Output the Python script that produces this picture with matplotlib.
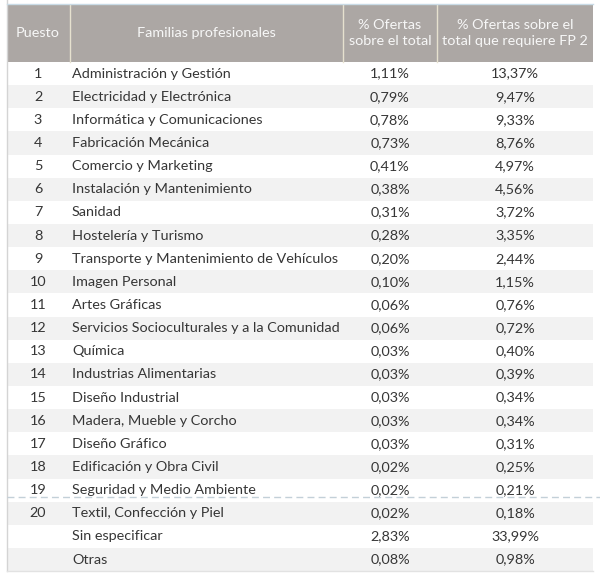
import matplotlib
matplotlib.use("Agg")
import matplotlib.pyplot as plt
from matplotlib.patches import Rectangle

# table data
puesto = [str(i) for i in range(1, 21)] + ["", ""]
familias = [
    "Administración y Gestión",
    "Electricidad y Electrónica",
    "Informática y Comunicaciones",
    "Fabricación Mecánica",
    "Comercio y Marketing",
    "Instalación y Mantenimiento",
    "Sanidad",
    "Hostelería y Turismo",
    "Transporte y Mantenimiento de Vehículos",
    "Imagen Personal",
    "Artes Gráficas",
    "Servicios Socioculturales y a la Comunidad",
    "Química",
    "Industrias Alimentarias",
    "Diseño Industrial",
    "Madera, Mueble y Corcho",
    "Diseño Gráfico",
    "Edificación y Obra Civil",
    "Seguridad y Medio Ambiente",
    "Textil, Confección y Piel",
    "Sin especificar",
    "Otras",
]
pct_total = [1.11, 0.79, 0.78, 0.73, 0.41, 0.38, 0.31, 0.28, 0.20, 0.10, 0.06,
             0.06, 0.03, 0.03, 0.03, 0.03, 0.03, 0.02, 0.02, 0.02, 2.83, 0.08]
pct_fp2 = [13.37, 9.47, 9.33, 8.76, 4.97, 4.56, 3.72, 3.35, 2.44, 1.15, 0.76,
           0.72, 0.40, 0.39, 0.34, 0.34, 0.31, 0.25, 0.21, 0.18, 33.99, 0.98]
headers = ["Puesto", "Familias profesionales",
           "% Ofertas\nsobre el total", "% Ofertas sobre el\ntotal que requiere FP 2"]

def fmt(v):
    return ("%.2f%%" % v).replace(".", ",")

plt.rcParams['font.family'] = ['Lato', 'DejaVu Sans']

fig = plt.figure(figsize=(6, 5.79), dpi=100)
ax = fig.add_axes([0, 0, 1, 1])
ax.set_xlim(0, 600)
ax.set_ylim(579, 0)
ax.axis("off")

left, right = 6.5, 593
top, head_bot = 4.5, 62
row_h = 23.14
col_edges = [left, 70, 343, 437, right]
header_col = "#aca7a4"
text_col = "#363636"
fs = 10.4

# header
ax.add_patch(Rectangle((left, top), right - left, head_bot - top, color=header_col, lw=0))
for x in col_edges[1:-1]:
    ax.plot([x, x], [top, head_bot], color="#e6e1cf", lw=1)
centers = [38, 206, 390, 515]
for c, h in zip(centers, headers):
    ax.text(c, (top + head_bot) / 2, h, ha="center", va="center", color="#f7f7f7",
            fontsize=fs, linespacing=1.4)

# rows
for i in range(len(familias)):
    y0 = head_bot + i * row_h
    yc = y0 + row_h / 2
    if i % 2 == 1:
        ax.add_patch(Rectangle((left, y0), right - left, row_h, color="#f2f2f2", lw=0))
    ax.text(38, yc, puesto[i], ha="center", va="center", color=text_col, fontsize=fs)
    ax.text(72, yc, familias[i], ha="left", va="center", color=text_col, fontsize=fs)
    ax.text(390, yc, fmt(pct_total[i]), ha="center", va="center", color=text_col, fontsize=fs)
    ax.text(515, yc, fmt(pct_fp2[i]), ha="center", va="center", color=text_col, fontsize=fs)

bottom = head_bot + len(familias) * row_h
# frame lines
ax.plot([left, left], [0, bottom], color="#d4d4d4", lw=1)
ax.plot([left, right], [top - 0.5, top - 0.5], color="#c9dbe6", lw=1)
ax.plot([left, right], [bottom, bottom], color="#e2e2e2", lw=1)
# dashed separator after row 19
ydash = head_bot + 19 * row_h - 4.5
ax.plot([left, 600], [ydash, ydash], color="#c3d0d8", lw=1, ls=(0, (5, 3)))

fig.savefig("out.png", dpi=100)
